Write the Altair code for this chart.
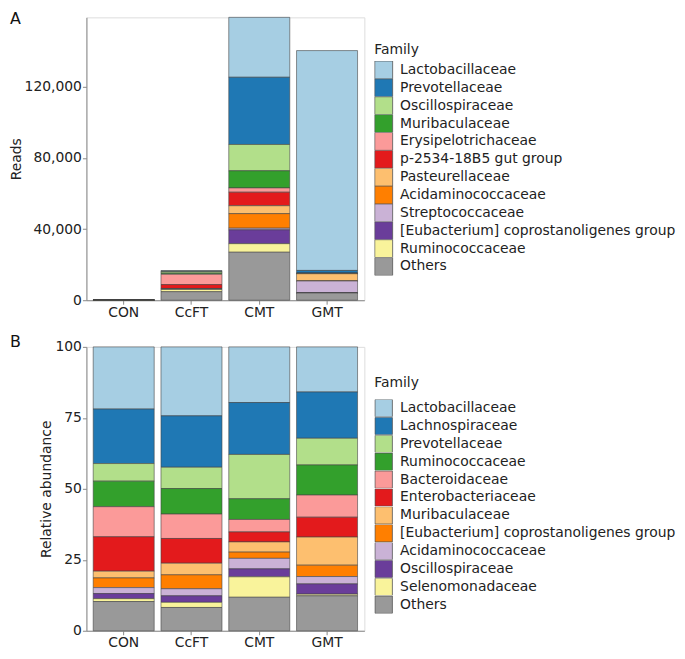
import altair as alt
import pandas as pd

groups = ["CON", "CcFT", "CMT", "GMT"]

# ---- Panel A: reads per family ----
families_a = [
    "Lactobacillaceae", "Prevotellaceae", "Oscillospiraceae", "Muribaculaceae",
    "Erysipelotrichaceae", "p-2534-18B5 gut group", "Pasteurellaceae",
    "Acidaminococcaceae", "Streptococcaceae", "[Eubacterium] coprostanoligenes group",
    "Ruminococcaceae", "Others",
]
colors_a = ["#a6cee3", "#1f78b4", "#b2df8a", "#33a02c", "#fb9a99", "#e31a1c",
            "#fdbf6f", "#ff7f00", "#cab2d6", "#6a3d9a", "#f9f39b", "#999999"]
con_reads = [60, 30, 20, 20, 20, 10, 10, 10, 10, 10, 10, 50]
ccft_reads = [400, 300, 800, 600, 5800, 2200, 100, 100, 100, 200, 1300, 4800]
cmt_reads = [33700, 37800, 14800, 9650, 2400, 7600, 4450, 8200, 900, 7800, 4800, 27000]
gmt_reads = [123650, 1500, 100, 100, 100, 50, 4050, 50, 6650, 50, 50, 4050]

# ---- Panel B: relative abundance ----
families_b = [
    "Lactobacillaceae", "Lachnospiraceae", "Prevotellaceae", "Ruminococcaceae",
    "Bacteroidaceae", "Enterobacteriaceae", "Muribaculaceae",
    "[Eubacterium] coprostanoligenes group", "Acidaminococcaceae",
    "Oscillospiraceae", "Selenomonadaceae", "Others",
]
colors_b = ["#a6cee3", "#1f78b4", "#b2df8a", "#33a02c", "#fb9a99", "#e31a1c",
            "#fdbf6f", "#ff7f00", "#cab2d6", "#6a3d9a", "#f9f39b", "#999999"]
con_rel = [21.9, 19.2, 6.2, 9.0, 10.6, 12.1, 2.4, 3.4, 2.1, 1.8, 1.0, 10.3]
ccft_rel = [24.3, 18.1, 7.5, 9.0, 8.6, 8.7, 4.1, 4.9, 2.5, 2.3, 1.8, 8.2]
cmt_rel = [19.6, 18.3, 15.6, 7.3, 4.4, 3.5, 3.6, 2.2, 3.7, 2.8, 7.2, 11.8]
gmt_rel = [15.9, 16.3, 9.4, 10.6, 7.8, 7.0, 9.9, 4.0, 2.6, 3.6, 0.6, 12.3]


def build(families, series):
    rows = []
    for g, vals in zip(groups, series):
        for i, (f, v) in enumerate(zip(families, vals)):
            rows.append({"Group": g, "Family": f, "Value": v, "rank": i})
    return pd.DataFrame(rows)


df_a = build(families_a, [con_reads, ccft_reads, cmt_reads, gmt_reads])
df_b = build(families_b, [con_rel, ccft_rel, cmt_rel, gmt_rel])

FONT = "DejaVu Sans"
TXT = "#222222"
AX = "#888888"
W = 280
LX = 290


def legend(y, h, tpad):
    return alt.Legend(
        title="Family", orient="none", legendX=LX, legendY=y,
        symbolType="square", symbolSize=h * h, symbolStrokeColor="#555555",
        symbolStrokeWidth=0.8, symbolOpacity=1, labelFontSize=14, labelColor=TXT,
        titleFontSize=14, titleFontWeight="normal", titleColor=TXT, titlePadding=tpad,
        rowPadding=0, clipHeight=h, labelOffset=7, padding=0, labelLimit=400,
        labelFont=FONT, titleFont=FONT,
    )


def xaxis():
    return alt.X("Group:N", sort=groups,
                 scale=alt.Scale(paddingInner=0.1, paddingOuter=0.1),
                 axis=alt.Axis(title=None, labelAngle=0, labelFontSize=14, labelColor=TXT,
                               labelFont=FONT, tickSize=4, tickColor=AX, domainColor=AX,
                               labelPadding=1))


def letter(t, y):
    return alt.Chart(pd.DataFrame({"t": [t]})).mark_text(
        align="left", baseline="alphabetic", fontSize=16, font=FONT, color="#111111"
    ).encode(text="t:N", x=alt.value(-77), y=alt.value(y))


def yaxis(title, values, fmt):
    return alt.Axis(title=title, values=values, format=fmt,
                    labelFontSize=14, labelColor=TXT, labelFont=FONT, titleFont=FONT,
                    titleFontSize=14, titleFontWeight="normal", titleColor=TXT,
                    titlePadding=1, tickSize=4, tickColor=AX, domainColor=AX,
                    grid=False, labelPadding=1)


bars_a = alt.Chart(df_a).mark_bar(stroke="#444444", strokeWidth=0.7, strokeOpacity=0.85).encode(
    x=xaxis(),
    y=alt.Y("Value:Q", stack="zero", scale=alt.Scale(nice=False),
            axis=yaxis("Reads", [0, 40000, 80000, 120000], ",.0f")),
    color=alt.Color("Family:N", scale=alt.Scale(domain=families_a, range=colors_a),
                    legend=legend(26, 18, 4)),
    order=alt.Order("rank:Q", sort="descending"),
)
panel_a = alt.layer(bars_a, letter("A", 7)).properties(width=W, height=285)

bars_b = alt.Chart(df_b).mark_bar(stroke="#444444", strokeWidth=0.7, strokeOpacity=0.85).encode(
    x=xaxis(),
    y=alt.Y("Value:Q", stack="zero", scale=alt.Scale(domain=[0, 100], nice=False),
            axis=yaxis("Relative abundance", [0, 25, 50, 75, 100], "d")),
    color=alt.Color("Family:N", scale=alt.Scale(domain=families_b, range=colors_b),
                    legend=legend(29, 17.5, 10)),
    order=alt.Order("rank:Q", sort="descending"),
)
panel_b = alt.layer(bars_b, letter("B", 0)).properties(width=W, height=286)

chart = alt.vconcat(panel_a, panel_b, spacing=13).resolve_scale(
    color="independent"
).resolve_legend(color="independent").properties(padding=0).configure_view(
    stroke=None
).configure(font=FONT)

chart.save("out.html", embed_options={"renderer": "svg", "actions": False})
